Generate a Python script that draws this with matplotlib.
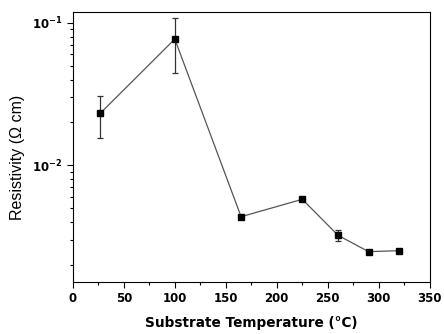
import numpy as np
import matplotlib.pyplot as plt
from matplotlib.ticker import MultipleLocator, LogLocator, NullFormatter

# substrate temperature (C) and resistivity (ohm cm)
temp = [27, 100, 165, 225, 260, 290, 320]
rho = [0.0232, 0.0769, 0.00436, 0.00578, 0.00323, 0.00248, 0.00252]
err_lo = [0.0077, 0.0327, 0.00010, 0.00015, 0.00028, 0.00006, 0.00006]
err_hi = [0.0074, 0.0311, 0.00010, 0.00015, 0.00027, 0.00006, 0.00006]

fig = plt.figure(figsize=(4.44, 3.34), dpi=100)
ax = fig.add_axes([0.164, 0.157, 0.804, 0.807])

ax.plot(temp, rho, color='#555555', lw=0.9, zorder=2)
ax.errorbar(temp, rho, yerr=[err_lo, err_hi], fmt='none', ecolor='#333333',
            elinewidth=0.9, capsize=2.5, capthick=0.9, zorder=3)
ax.plot(temp, rho, 's', color='black', ms=4, zorder=4)

ax.set_yscale('log')
ax.set_xlim(0, 350)
ax.set_ylim(1.53e-3, 0.119)

ax.xaxis.set_major_locator(MultipleLocator(50))
ax.xaxis.set_minor_locator(MultipleLocator(25))
ax.yaxis.set_major_locator(LogLocator(base=10, numticks=10))
ax.yaxis.set_minor_locator(LogLocator(base=10, subs=np.arange(2, 10), numticks=10))
ax.yaxis.set_minor_formatter(NullFormatter())

ax.tick_params(which='both', direction='out', top=False, right=False, width=0.8)
ax.tick_params(which='major', length=4, labelsize=8.5)
ax.tick_params(which='minor', length=2.5)
for lab in ax.get_xticklabels() + ax.get_yticklabels():
    lab.set_fontweight('bold')

for s in ax.spines.values():
    s.set_linewidth(0.8)

ax.set_xlabel('Substrate Temperature (°C)', fontsize=9.8,
              fontweight='bold', labelpad=8)
ax.set_ylabel('Resistivity (Ω cm)', fontsize=11.5, family='Liberation Sans')
ax.yaxis.set_label_coords(-0.135, 0.46)

fig.savefig('out.png', dpi=100)
